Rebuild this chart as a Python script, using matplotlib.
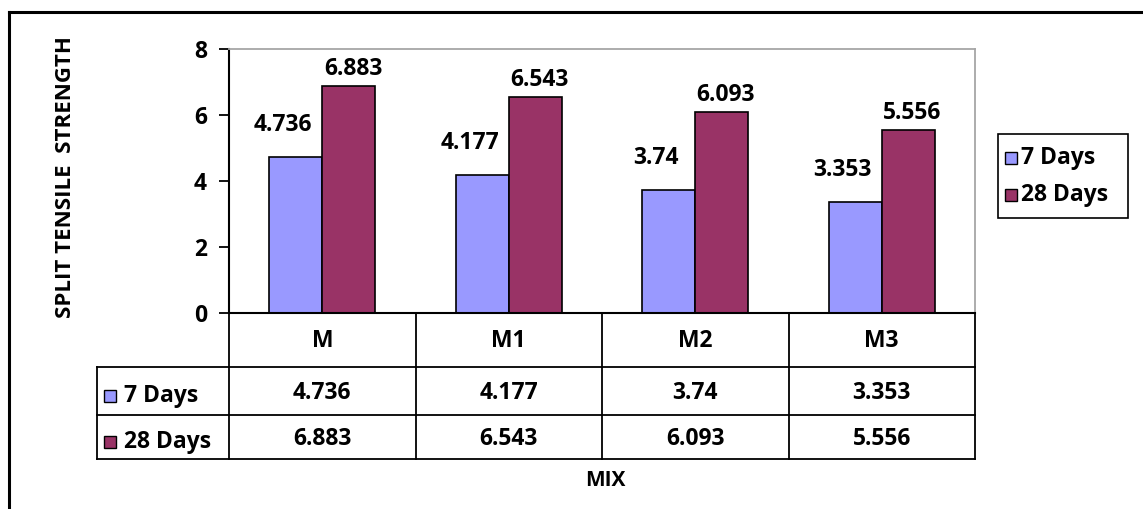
import numpy as np
import matplotlib.pyplot as plt
from matplotlib.lines import Line2D
from matplotlib.patches import Rectangle

# Split tensile strength per mix
mixes = ["M", "M1", "M2", "M3"]
days7 = [4.736, 4.177, 3.74, 3.353]
days28 = [6.883, 6.543, 6.093, 5.556]
series_names = ["7 Days", "28 Days"]
colors = ["#9999FF", "#993366"]

W, H = 1143, 509
plt.rcParams['font.family'] = ['Open Sans', 'DejaVu Sans']
plt.rcParams['font.weight'] = 'bold'
FS = 16.5

fig = plt.figure(figsize=(W / 100, H / 100), dpi=100)


def fx(x):
    return x / W


def fy(y):
    return 1 - y / H


def hline(x0, x1, y, color="black", lw=1.3):
    fig.add_artist(Line2D([fx(x0), fx(x1)], [fy(y), fy(y)], color=color, lw=lw))


def vline(x, y0, y1, color="black", lw=1.3):
    fig.add_artist(Line2D([fx(x), fx(x)], [fy(y0), fy(y1)], color=color, lw=lw))


# outer frame (only top and left edges in view)
hline(9, W, 12, lw=2.2)
vline(9, 12, H, lw=2.2)

# plot area
left, right, top, bottom = 229, 975, 49, 313
ax = fig.add_axes([fx(left), fy(bottom), (right - left) / W, (bottom - top) / H])

x = np.arange(len(mixes))
bw = 0.285
ax.bar(x - bw / 2, days7, bw, color=colors[0], edgecolor="black", lw=1.2, label=series_names[0])
ax.bar(x + bw / 2, days28, bw, color=colors[1], edgecolor="black", lw=1.2, label=series_names[1])

for i in range(len(mixes)):
    ax.annotate(f"{days7[i]:g}", (x[i] - bw / 2, days7[i]), xytext=(-9, 23),
                textcoords="offset points", ha="center", va="center", fontsize=FS, fontweight="bold")
    ax.annotate(f"{days28[i]:g}", (x[i] + bw / 2, days28[i]), xytext=(3, 12),
                textcoords="offset points", ha="center", va="center", fontsize=FS, fontweight="bold")

ax.set_xlim(-0.5, len(mixes) - 0.5)
ax.set_ylim(0, 8)
ax.set_yticks([0, 2, 4, 6, 8])
ax.set_xticks([])
ax.tick_params(axis="y", length=7, width=1.3, pad=9, labelsize=FS)
for lab in ax.get_yticklabels():
    lab.set_fontweight("bold")
ax.spines["left"].set_linewidth(1.5)
ax.spines["bottom"].set_linewidth(1.5)
ax.spines["top"].set_color("#A6A6A6")
ax.spines["right"].set_color("#A6A6A6")
ax.spines["top"].set_linewidth(1.3)
ax.spines["right"].set_linewidth(1.3)

fig.text(fx(66), fy(177), "SPLIT TENSILE  STRENGTH", rotation=90, ha="center", va="center",
         fontsize=16, fontweight="bold")

# legend box on the right
lg_x0, lg_x1, lg_y0, lg_y1 = 998, 1128, 134, 218
fig.add_artist(Rectangle((fx(lg_x0), fy(lg_y1)), (lg_x1 - lg_x0) / W, (lg_y1 - lg_y0) / H,
                         fill=False, ec="black", lw=1.2))
for k, (name, c) in enumerate(zip(series_names, colors)):
    yc = 158 + k * 37
    fig.add_artist(Rectangle((fx(1005), fy(yc + 6)), 12 / W, 12 / H, fc=c, ec="black", lw=1))
    fig.text(fx(1021), fy(yc), name, ha="left", va="center", fontsize=FS, fontweight="bold")

# data table under the axis
col_x = np.linspace(left, right, len(mixes) + 1)
row_y = [313, 367, 415, 459]
lab_x = 97
for cx in col_x:
    vline(cx, row_y[0], row_y[-1])
vline(lab_x, row_y[1], row_y[-1])
for ry in row_y[1:]:
    hline(lab_x, right, ry)

for i, m in enumerate(mixes):
    xc = (col_x[i] + col_x[i + 1]) / 2
    fig.text(fx(xc), fy((row_y[0] + row_y[1]) / 2 + 1), m, ha="center", va="center", fontsize=FS, fontweight="bold")
    fig.text(fx(xc), fy((row_y[1] + row_y[2]) / 2 + 2), f"{days7[i]:g}", ha="center", va="center",
             fontsize=FS, fontweight="bold")
    fig.text(fx(xc), fy((row_y[2] + row_y[3]) / 2 + 2), f"{days28[i]:g}", ha="center", va="center",
             fontsize=FS, fontweight="bold")

for k, (name, c) in enumerate(zip(series_names, colors)):
    yc = (row_y[k + 1] + row_y[k + 2]) / 2 + 5
    fig.add_artist(Rectangle((fx(104), fy(yc + 6)), 12 / W, 12 / H, fc=c, ec="black", lw=1))
    fig.text(fx(124), fy(yc), name, ha="left", va="center", fontsize=FS, fontweight="bold")

fig.text(fx(605), fy(481), "MIX", ha="center", va="center", fontsize=15, fontweight="bold")

fig.savefig("out.png", dpi=100)
